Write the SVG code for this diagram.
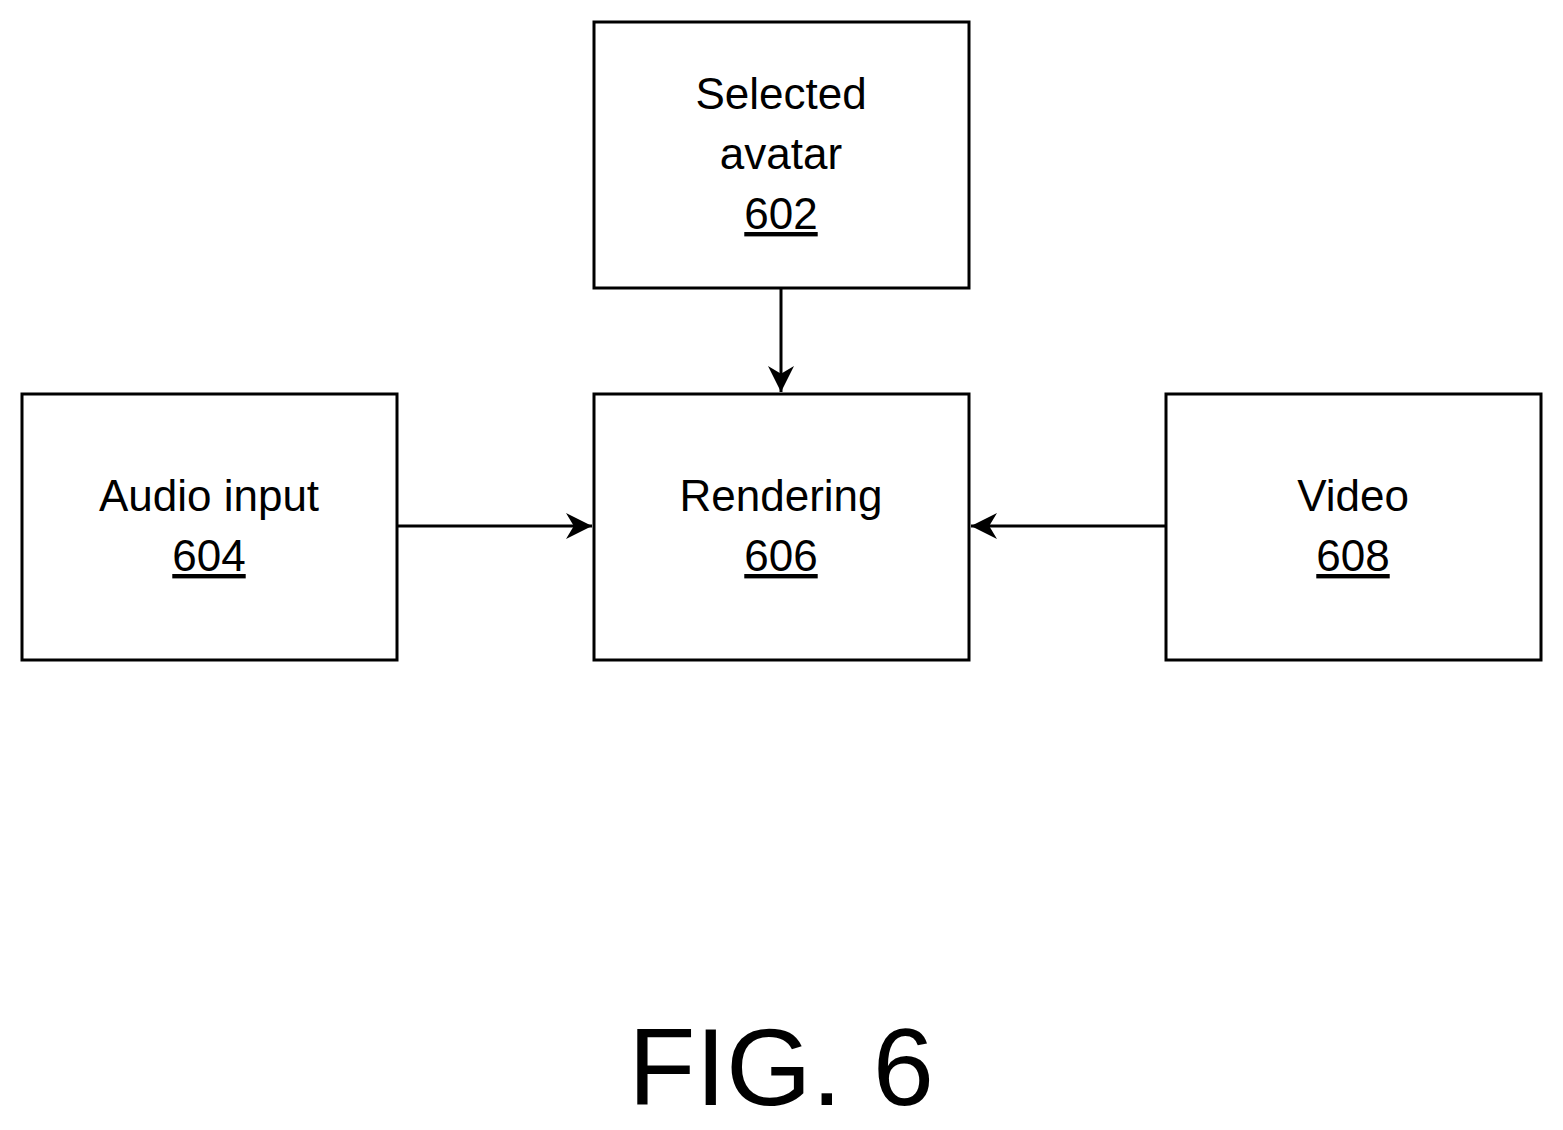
<svg xmlns="http://www.w3.org/2000/svg" width="1563" height="1130" viewBox="0 0 1563 1130">
<style>
rect{fill:#fff;stroke:#000;stroke-width:3}
text{font-family:"Liberation Sans",Arial,sans-serif;font-size:44px;text-anchor:middle;fill:#000}
.u{text-decoration:underline}
line{stroke:#000;stroke-width:3}
</style>
<defs><marker id="a" viewBox="0 0 10 10" refX="10" refY="5" markerWidth="8" markerHeight="8" markerUnits="userSpaceOnUse" orient="auto"><path d="M0,0L10,5L0,10z"/></marker>
<marker id="b" viewBox="0 0 10 10" refX="10" refY="5" markerWidth="26" markerHeight="26" markerUnits="userSpaceOnUse" orient="auto"><path d="M0,0L10,5L0,10L3,5z"/></marker></defs>
<rect width="1563" height="1130" fill="#fff" stroke="none" style="stroke:none"/>
<g id="n602"><rect x="594" y="22" width="375" height="266"/><text x="781" y="109">Selected</text><text x="781" y="169">avatar</text><text x="781" y="229" class="u">602</text></g>
<g id="n604"><rect x="22" y="394" width="375" height="266"/><text x="209" y="511">Audio input</text><text x="209" y="571" class="u">604</text></g>
<g id="n606"><rect x="594" y="394" width="375" height="266"/><text x="781" y="511">Rendering</text><text x="781" y="571" class="u">606</text></g>
<g id="n608"><rect x="1166" y="394" width="375" height="266"/><text x="1353" y="511">Video</text><text x="1353" y="571" class="u">608</text></g>
<g id="edges">
<line x1="781" y1="288" x2="781" y2="392" marker-end="url(#b)"/>
<line x1="397" y1="526" x2="592" y2="526" marker-end="url(#b)"/>
<line x1="1166" y1="526" x2="971" y2="526" marker-end="url(#b)"/>
</g>
<text x="781" y="1105" style="font-size:110px">FIG. 6</text>
</svg>
